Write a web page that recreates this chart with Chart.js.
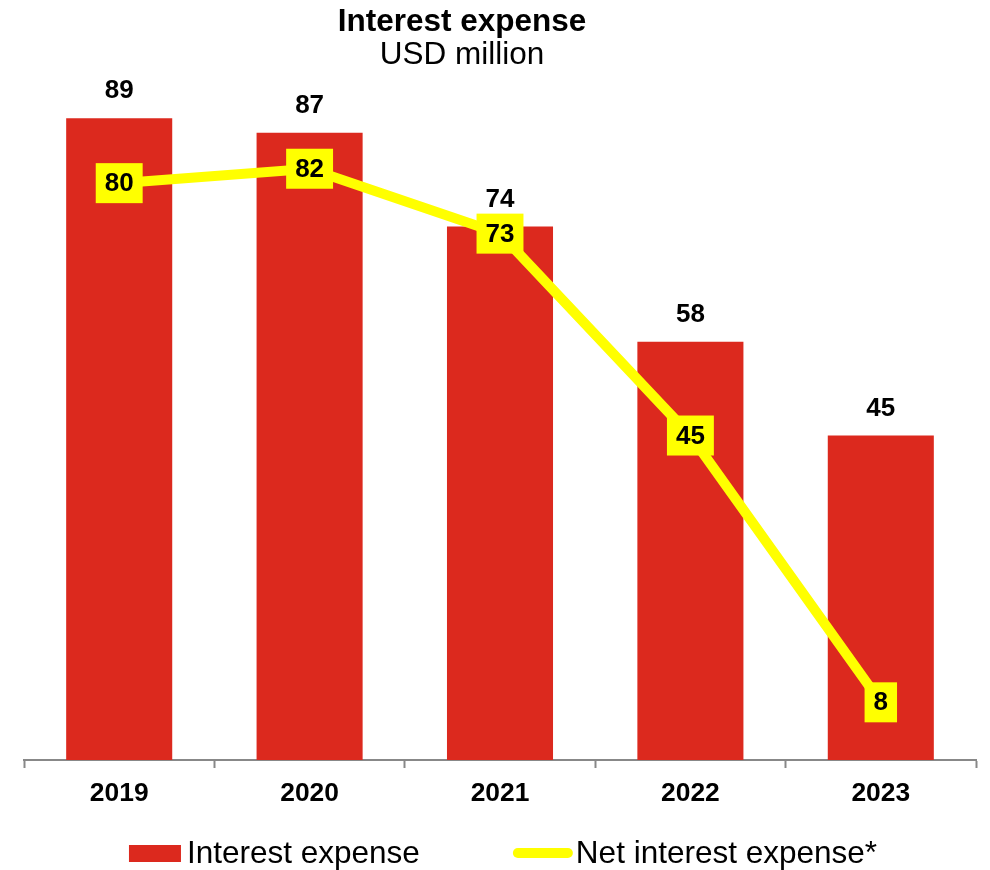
<!DOCTYPE html>
<html>
<head>
<meta charset="utf-8">
<script src="https://cdn.jsdelivr.net/npm/chart.js@4"></script>
<style>
  html, body { margin: 0; padding: 0; background: #fff; }
  #wrap { width: 990px; height: 870px; }
</style>
</head>
<body>
<div id="wrap"><canvas id="interestChart"></canvas></div>
<script>
const years = ['2019', '2020', '2021', '2022', '2023'];
const interestExpense = [89, 87, 74, 58, 45];
const netInterestExpense = [80, 82, 73, 45, 8];

const titleText = 'Interest expense';
const subtitleText = 'USD million';

const FONT = '"Liberation Sans", Arial, sans-serif';
const RED = '#DC291E';
const YELLOW = '#FFFF00';

// two-line heading, sits a little left of the canvas centre
const heading = {
    id: 'heading',
    afterDraw(chart) {
        const ctx = chart.ctx;
        const cx = 462;
        ctx.save();
        ctx.fillStyle = '#000';
        ctx.textAlign = 'center';
        ctx.textBaseline = 'middle';
        ctx.font = 'bold 31.5px ' + FONT;
        ctx.fillText(titleText, cx, 22);
        ctx.font = '31.5px ' + FONT;
        ctx.fillText(subtitleText, cx, 55);
        ctx.restore();
    }
};

// value labels: plain numbers above bars, yellow boxes on the line
const valueLabels = {
    id: 'valueLabels',
    afterDatasetsDraw(chart) {
        const ctx = chart.ctx;
        ctx.save();
        ctx.font = 'bold 26px ' + FONT;
        ctx.textAlign = 'center';
        ctx.textBaseline = 'middle';

        chart.getDatasetMeta(0).data.forEach((bar, i) => {
            ctx.fillStyle = '#000';
            ctx.fillText(interestExpense[i], bar.x, bar.y - 27);
        });

        chart.getDatasetMeta(1).data.forEach((pt, i) => {
            const txt = String(netInterestExpense[i]);
            const w = ctx.measureText(txt).width + 18;
            const h = 40;
            ctx.fillStyle = YELLOW;
            ctx.fillRect(pt.x - w / 2, pt.y - h / 2, w, h);
            ctx.fillStyle = '#000';
            ctx.fillText(txt, pt.x, pt.y + 1);
        });
        ctx.restore();
    }
};

// legend row under the axis: red box for the bars, thick yellow stroke for the line
const bottomLegend = {
    id: 'bottomLegend',
    afterDraw(chart) {
        const ctx = chart.ctx;
        const y = 853;
        const gapItems = 93;
        ctx.save();
        ctx.font = '31.5px ' + FONT;
        ctx.textBaseline = 'middle';
        ctx.textAlign = 'left';
        const t1 = chart.data.datasets[0].label;
        const t2 = chart.data.datasets[1].label;
        const w1 = ctx.measureText(t1).width;
        const w2 = ctx.measureText(t2).width;
        const total = 52 + 6 + w1 + gapItems + 60 + 3 + w2;
        let x = chart.width / 2 - total / 2 + 8;

        ctx.fillStyle = RED;
        ctx.fillRect(x, y - 8, 52, 17);
        x += 58;
        ctx.fillStyle = '#000';
        ctx.fillText(t1, x, y + 1);
        x += w1 + gapItems;

        ctx.strokeStyle = YELLOW;
        ctx.lineWidth = 10;
        ctx.lineCap = 'round';
        ctx.beginPath();
        ctx.moveTo(x + 5, y);
        ctx.lineTo(x + 55, y);
        ctx.stroke();
        x += 63;
        ctx.fillStyle = '#000';
        ctx.fillText(t2, x, y + 1);
        ctx.restore();
    }
};

const ctx = document.getElementById('interestChart').getContext('2d');
const chart = new Chart(ctx, {
    type: 'bar',
    data: {
        labels: years,
        datasets: [{
            label: 'Interest expense',
            data: interestExpense,
            backgroundColor: RED,
            borderWidth: 0,
            categoryPercentage: 1,
            barPercentage: 0.557,
            order: 1
        }, {
            type: 'line',
            label: 'Net interest expense*',
            data: netInterestExpense,
            borderColor: YELLOW,
            backgroundColor: YELLOW,
            borderWidth: 10,
            pointRadius: 0,
            tension: 0,
            order: 0
        }]
    },
    options: {
        responsive: true,
        maintainAspectRatio: false,
        animation: false,
        layout: { padding: { left: 24, right: 14, top: 75, bottom: 63 } },
        plugins: {
            title: { display: false },
            legend: { display: false },
            tooltip: { enabled: false }
        },
        scales: {
            x: {
                offset: true,
                grid: {
                    offset: true,
                    drawOnChartArea: false,
                    drawTicks: true,
                    tickLength: 8,
                    tickWidth: 2,
                    tickColor: '#888'
                },
                border: { display: true, color: '#888', width: 2 },
                ticks: {
                    color: '#000',
                    padding: 10,
                    font: { family: FONT, size: 26.4, weight: 'bold' }
                },
                afterFit(scale) { scale.height = 47; }
            },
            y: {
                display: false,
                min: 0,
                max: 95
            }
        }
    },
    plugins: [valueLabels, heading, bottomLegend]
});
</script>
</body>
</html>
